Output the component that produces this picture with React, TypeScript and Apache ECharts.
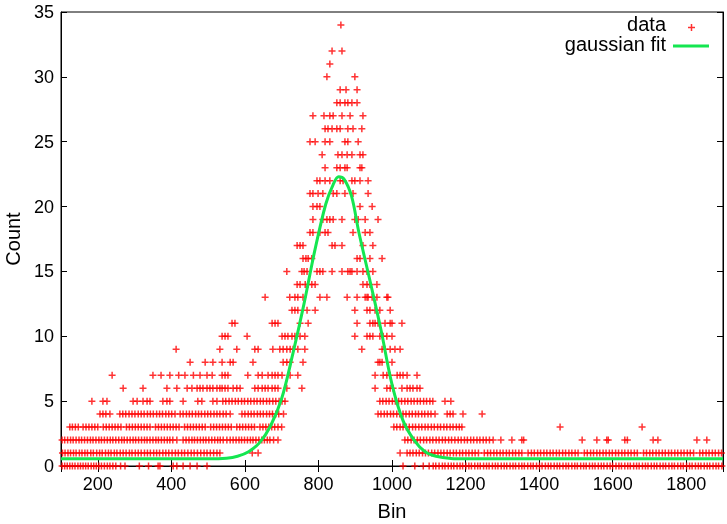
import React, { useEffect, useRef } from "react";
import * as echarts from "echarts";

const y0 = [103,110,117,124,131,138,146,153,160,167,174,182,189,196,203,210,218,226,233,241,249,262,274,313,338,364,369,405,415,432,451,470,497,
  1030,1062,1085,1101,1112,1119,1128,1137,1144,1153,1161,1168,1177,1185,1192,1201,1209,1216,1225,1233,1240,1249,1257,1264,1273,1281,1288,1297,1305,1312,1321,1329,1336,1345,1353,1360,1369,1377,1384,1393,1401,1408,1417,1425,1432,1441,1449,1456,1465,1473,1480,1489,1497,1504,1513,1521,1528,1537,1545,1552,1561,1569,1576,1585,1593,1600,1609,1617,1624,1633,1641,1648,1657,1665,1672,1681,1689,1696,1705,1713,1720,1729,1737,1744,1753,1761,1768,1777,1785,1792,1801,1809,1816,1825,1833,1840,1849,1857,1864,1873,1881,1888,1897];
const y1 = [104,111,119,126,134,141,150,157,165,172,181,188,197,205,212,221,229,236,245,252,261,269,277,286,293,302,310,318,327,335,343,352,360,368,377,385,393,402,411,419,428,436,445,454,462,471,480,489,497,506,515,524,532,620,636,
  1022,1041,1049,1057,1066,1074,1083,1091,1099,1108,1116,1125,1133,1141,1150,1158,1167,1175,1184,1192,1201,1209,1218,1226,1235,1251,1260,1268,1277,1285,1294,1302,1311,1319,1328,1336,1345,1353,1370,1379,1387,1396,1404,1413,1421,1430,1438,1447,1455,1464,1472,1481,1489,1498,1506,1523,1531,1540,1548,1557,1565,1574,1582,1591,1599,1608,1616,1625,1633,1642,1650,1659,1667,1684,1692,1701,1709,1718,1726,1735,1743,1752,1760,1769,1777,1786,1794,1803,1811,1820,1837,1845,1854,1862,1871,1879,1888,1896];
const y2 = [103,110,118,126,133,141,149,156,164,172,180,187,195,203,210,218,226,234,241,249,257,265,272,280,288,296,303,311,319,327,334,342,350,358,365,373,381,389,396,404,415,432,440,448,456,463,471,479,487,494,502,510,518,526,533,541,551,560,568,576,584,591,599,607,615,622,630,638,646,653,661,668,678,690,
  1035,1043,1052,1060,1069,1077,1086,1094,1103,1111,1120,1128,1137,1145,1154,1162,1171,1180,1188,1197,1205,1214,1222,1231,1239,1248,1256,1265,1275,1296,1326,1353,1358,1517,1557,1584,1588,1633,1640,1710,1723,1829,1856];
const y3 = [124,131,139,147,160,168,176,184,192,200,215,223,231,239,247,255,263,278,286,294,302,310,318,326,334,342,357,365,373,381,389,397,405,413,421,436,444,452,460,468,476,484,492,507,515,523,531,539,547,555,563,578,586,594,602,610,618,626,641,649,657,665,673,681,690,700,
  1005,1013,1022,1030,1039,1047,1056,1064,1073,1081,1090,1098,1107,1115,1124,1132,1141,1149,1158,1166,1175,1183,1190,1457,1680];
const y4 = [206,214,222,233,260,268,276,285,293,301,310,318,326,335,343,351,360,368,376,385,393,401,410,424,432,441,449,457,466,474,482,491,499,507,516,524,532,541,549,560,592,600,609,617,625,634,642,650,659,667,675,684,692,705,
  962,970,979,987,996,1004,1013,1021,1030,1038,1047,1055,1064,1072,1081,1089,1098,1106,1117,1150,1158,1166,1193,1245];
const y5 = [184,214,225,296,307,323,334,342,377,388,396,432,472,483,513,524,540,548,557,565,574,582,591,599,608,616,625,633,642,650,659,667,676,684,693,701,709,
  967,975,984,992,1001,1009,1018,1026,1035,1043,1052,1060,1069,1077,1086,1094,1103,1111,1144,1160];
const y6 = [269,323,388,415,443,456,470,478,486,497,505,513,524,532,538,546,554,568,578,587,627,636,647,655,663,674,682,690,714,755,
  954,986,995,1003,1027,1041,1049,1057,1068,1076];
const y7 = [239,350,372,396,420,437,460,478,497,511,538,546,554,608,636,647,663,674,682,690,701,723,744,
  954,976,986,995,1014,1022,1030,1041,1068];
const y8 = [451,492,513,538,560,568,622,704,714,723,758,962,967,973,1000];
const y9 = [413,532,578,627,636,676,695,704,714,723,731,744,763,918,973,981,995,1008,1022];
const y10 = [538,546,554,606,701,709,717,728,736,750,763,899,932,940,948,967,976,986,1000];
const y11 = [565,573,674,682,690,750,772,905,940,948,954,962,981,995,1000,1027];
const y12 = [728,736,744,769,791,899,932,940,954,967,995];
const y13 = [655,722,736,744,758,804,823,878,905,927,932,935,946,959,986,989];
const y14 = [742,750,764,772,782,791,921,932,940,959];
const y15 = [714,755,761,769,796,804,812,837,864,880,886,891,905,921,932,948];
const y16 = [758,766,772,782,905,913,940,973];
const y17 = [742,750,758,837,845,864,921,948];
const y18 = [777,785,804,818,826,894,927,940];
const y19 = [785,812,823,831,840,864,899,908,927,962];
const y20 = [785,796,804,913,946];
const y21 = [777,785,799,812,840,850,872,894,935];
const y22 = [796,804,818,831,859,867,891,899,913,935];
const y23 = [818,850,859,872,878,913,918];
const y24 = [810,853,864,878,891,913,921];
const y25 = [777,791,818,831,872,880,908];
const y26 = [818,826,837,850,859,880,894,918];
const y27 = [785,815,831,840,864,886,921];
const y28 = [850,859,872,880,891,905];
const y29 = [859,875,905];
const y30 = [823,899];
const y31 = [831];
const y32 = [837,864];
const y33: number[] = [];
const y34 = [861];

// Gaussian fit curve
const fitX = [100, 500, 550, 580, 610, 640, 670, 700, 730, 760, 790, 820, 840, 855, 870, 890, 910, 940, 970, 1000, 1030, 1060, 1090, 1120, 1160, 1200, 1900];
const fitY = [0.55, 0.55, 0.6, 0.75, 1.1, 1.8, 3.1, 5.2, 8.6, 12.4, 16.6, 20.2, 21.7, 22.3, 22.1, 20.8, 18.0, 14.3, 10.5, 6.3, 3.5, 2.0, 1.1, 0.75, 0.58, 0.55, 0.55];

const countRows = [y0,y1,y2,y3,y4,y5,y6,y7,y8,y9,y10,y11,y12,y13,y14,y15,y16,y17,y18,y19,y20,y21,y22,y23,y24,y25,y26,y27,y28,y29,y30,y31,y32,y33,y34];

const FONT = '"Liberation Sans", Arial, Helvetica, sans-serif';
const PLUS = "path://M2.75,0H4.25V7H2.75Z M0,2.75H7V4.25H0Z";
const RED = "#ff0000";
const GREEN = "#14e650";

export default function App() {
  const ref = useRef<HTMLDivElement>(null);
  useEffect(() => {
    if (!ref.current) return;
    const chart = echarts.init(ref.current, undefined, { renderer: "svg" });
    const scatterData: number[][] = [];
    countRows.forEach((bins, count) => bins.forEach((b) => scatterData.push([b, count])));
    const fitData = fitX.map((x, i) => [x, fitY[i]]);
    const axisLine = { show: true, lineStyle: { color: "#000", width: 1 } };
    const tick = { show: true, inside: true, length: 6, lineStyle: { color: "#000", width: 1 } };
    const label = { color: "#000", fontSize: 18, fontFamily: FONT, formatter: (v: number) => String(v) };
    chart.setOption({
      animation: false,
      grid: {
        left: 61, right: 4, top: 12, bottom: 58, show: true, borderColor: "#000", borderWidth: 1,
        containLabel: false, outerBoundsMode: "none",
      },
      xAxis: [
        {
          type: "value", min: 100, max: 1900, splitNumber: 9, position: "bottom",
          name: "Bin", nameLocation: "middle", nameGap: 35,
          nameTextStyle: { color: "#000", fontSize: 20, fontFamily: FONT },
          axisLine, axisTick: tick,
          axisLabel: { ...label, margin: 9, showMinLabel: false, showMaxLabel: false },
          splitLine: { show: false },
        },
        {
          type: "value", min: 100, max: 1900, splitNumber: 9, position: "top",
          axisLine, axisTick: tick, axisLabel: { show: false }, splitLine: { show: false },
        },
      ],
      yAxis: [
        {
          type: "value", min: 0, max: 35, interval: 5, position: "left",
          name: "Count", nameLocation: "middle", nameGap: 37,
          nameTextStyle: { color: "#000", fontSize: 20, fontFamily: FONT },
          axisLine, axisTick: tick,
          axisLabel: { ...label, margin: 7 },
          splitLine: { show: false },
        },
        {
          type: "value", min: 0, max: 35, interval: 5, position: "right",
          axisLine, axisTick: tick, axisLabel: { show: false }, splitLine: { show: false },
        },
      ],
      series: [
        {
          type: "scatter", name: "data", data: scatterData,
          symbol: PLUS, symbolSize: 7,
          itemStyle: { color: RED },
          z: 2,
        },
        {
          type: "line", name: "gaussian fit", data: fitData,
          smooth: 0.35, symbol: "none",
          lineStyle: { color: GREEN, width: 3 },
          z: 3,
        },
      ],
      graphic: [
        { type: "text", right: 727 - 666, top: 14, style: { text: "data", font: `20px ${FONT}`, fill: "#000" } },
        { type: "rect", shape: { x: 688, y: 26.75, width: 7, height: 1.5 }, style: { fill: "#ff3030" } },
        { type: "rect", shape: { x: 690.75, y: 24, width: 1.5, height: 7 }, style: { fill: "#ff3030" } },
        { type: "text", right: 727 - 666, top: 34, style: { text: "gaussian fit", font: `20px ${FONT}`, fill: "#000" } },
        { type: "rect", shape: { x: 673, y: 44.5, width: 36, height: 3 }, style: { fill: GREEN } },
      ],
    });
    return () => chart.dispose();
  }, []);
  return <div ref={ref} style={{ position: "fixed", left: 0, top: 0, width: 727, height: 524 }} />;
}
